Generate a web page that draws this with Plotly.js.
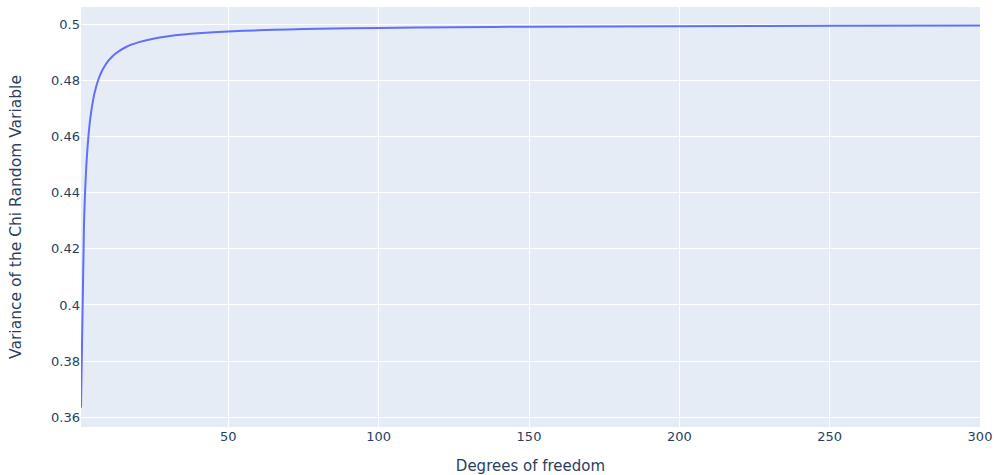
<!DOCTYPE html>
<html>
<head>
<meta charset="utf-8">
<script src="https://cdn.plot.ly/plotly-3.0.1.min.js"></script>
<style>html,body{margin:0;padding:0;background:#fff;}#chart{width:994px;height:475px;}</style>
</head>
<body>
<div id="chart"></div>
<script>
var degreesOfFreedom = [1, 2, 3, 4, 5, 6, 7, 8, 9, 10, 11, 12, 14, 16, 18, 20, 25, 30, 35, 40, 50, 60, 70, 80, 100, 125, 150, 200, 250, 300];
var chiVariance = [0.36338, 0.42920, 0.45352, 0.46571, 0.47293, 0.47767, 0.48098, 0.48348, 0.48536, 0.48691, 0.48812, 0.48915, 0.49075, 0.49194, 0.49286, 0.49359, 0.49490, 0.49576, 0.49638, 0.49684, 0.49748, 0.49790, 0.49820, 0.49843, 0.49874, 0.49900, 0.49916, 0.49937, 0.49950, 0.49958];

var trace = {
  x: degreesOfFreedom,
  y: chiVariance,
  type: 'scatter',
  mode: 'lines',
  line: {color: '#636efa', width: 2, shape: 'spline', smoothing: 0.6}
};

var layout = {
  width: 994,
  height: 475,
  margin: {l: 81, r: 14, t: 7, b: 48},
  paper_bgcolor: '#ffffff',
  plot_bgcolor: '#e5ecf6',
  font: {family: '"DejaVu Sans", verdana, sans-serif', size: 13, color: '#2a3f5f'},
  showlegend: false,
  xaxis: {
    title: {text: 'Degrees of freedom', font: {size: 15}},
    range: [1, 300],
    gridcolor: '#ffffff',
    zeroline: false,
    tickvals: [50, 100, 150, 200, 250, 300],
    ticks: ''
  },
  yaxis: {
    title: {text: 'Variance of the Chi Random Variable', font: {size: 15.5}, standoff: 25},
    range: [0.3565, 0.5062],
    gridcolor: '#ffffff',
    zeroline: false,
    dtick: 0.02,
    ticks: ''
  }
};

Plotly.newPlot('chart', [trace], layout, {displayModeBar: false});
</script>
</body>
</html>
